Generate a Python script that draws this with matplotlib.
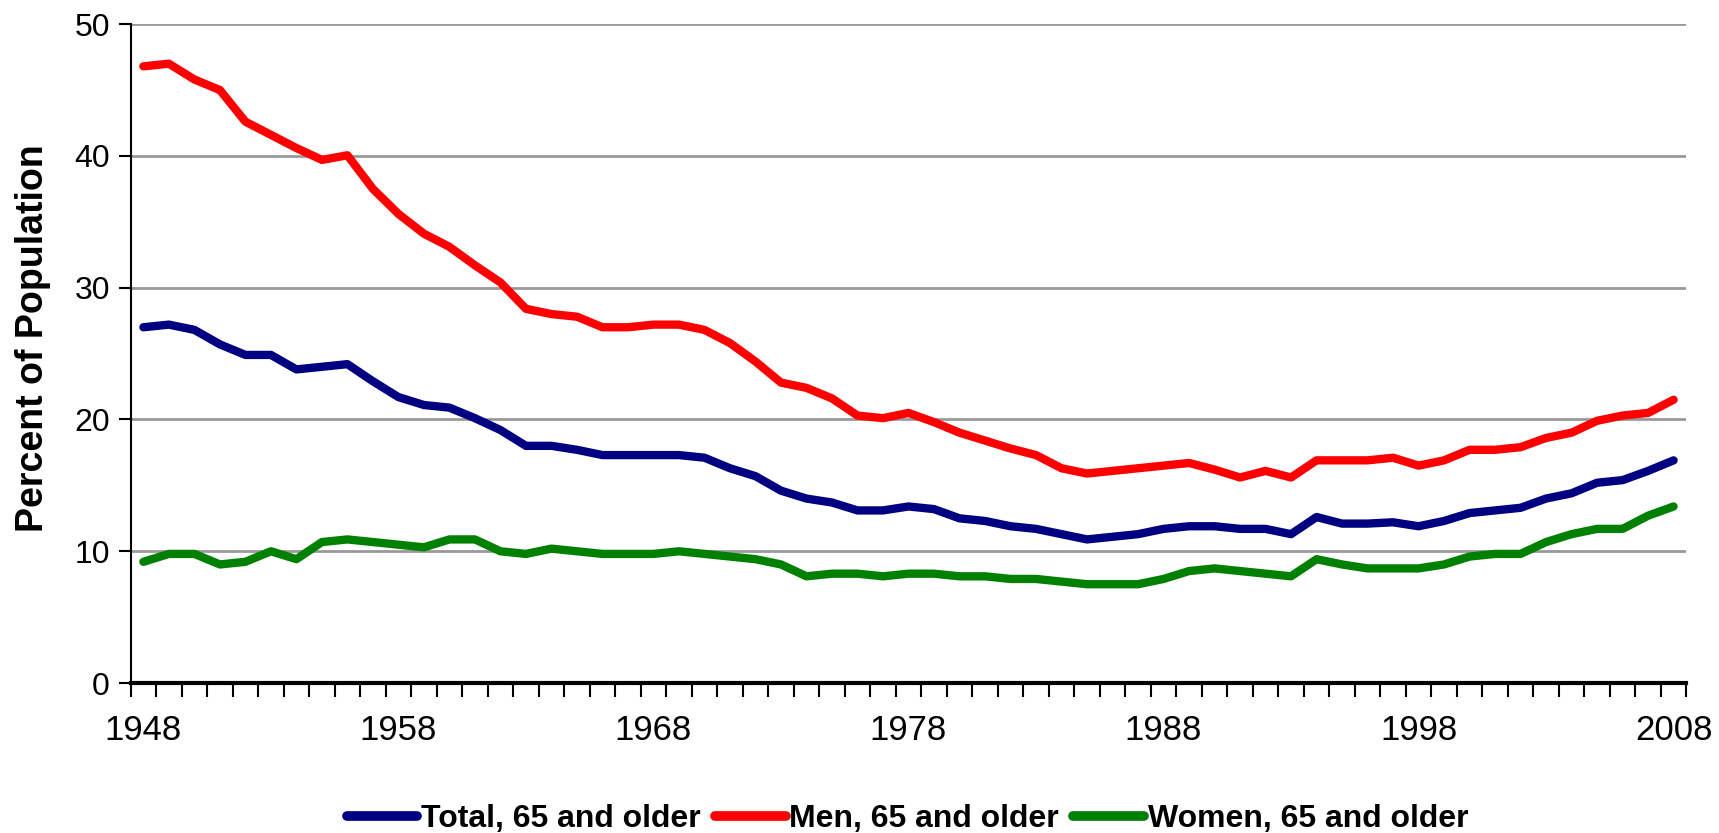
import numpy as np
import matplotlib
matplotlib.use("Agg")
import matplotlib.pyplot as plt

# Percent of population 65+ in labour force, annual
years = list(range(1948, 2009))
total = [27.0, 27.2, 26.8, 25.7, 24.9, 24.9, 23.8, 24.0, 24.2, 22.9,
         21.7, 21.1, 20.9, 20.1, 19.2, 18.0, 18.0, 17.7, 17.3, 17.3,
         17.3, 17.3, 17.1, 16.3, 15.7, 14.6, 14.0, 13.7, 13.1, 13.1,
         13.4, 13.2, 12.5, 12.3, 11.9, 11.7, 11.3, 10.9, 11.1, 11.3,
         11.7, 11.9, 11.9, 11.7, 11.7, 11.3, 12.6, 12.1, 12.1, 12.2,
         11.9, 12.3, 12.9, 13.1, 13.3, 14.0, 14.4, 15.2, 15.4, 16.1,
         16.9]
men = [46.8, 47.0, 45.8, 45.0, 42.6, 41.6, 40.6, 39.7, 40.05, 37.5,
       35.6, 34.1, 33.1, 31.7, 30.4, 28.4, 28.0, 27.8, 27.0, 27.0,
       27.2, 27.2, 26.8, 25.8, 24.4, 22.8, 22.4, 21.6, 20.3, 20.1,
       20.5, 19.8, 19.0, 18.4, 17.8, 17.3, 16.3, 15.9, 16.1, 16.3,
       16.5, 16.7, 16.2, 15.6, 16.1, 15.6, 16.9, 16.9, 16.9, 17.1,
       16.5, 16.9, 17.7, 17.7, 17.9, 18.6, 19.0, 19.9, 20.3, 20.5,
       21.5]
women = [9.2, 9.8, 9.8, 9.0, 9.2, 10.0, 9.4, 10.7, 10.9, 10.7,
         10.5, 10.3, 10.9, 10.9, 10.0, 9.8, 10.2, 10.0, 9.8, 9.8,
         9.8, 10.0, 9.8, 9.6, 9.4, 9.0, 8.1, 8.3, 8.3, 8.1,
         8.3, 8.3, 8.1, 8.1, 7.9, 7.9, 7.7, 7.5, 7.5, 7.5,
         7.9, 8.5, 8.7, 8.5, 8.3, 8.1, 9.4, 9.0, 8.7, 8.7,
         8.7, 9.0, 9.6, 9.8, 9.8, 10.7, 11.3, 11.7, 11.7, 12.7,
         13.4]
labels = ["Total, 65 and older", "Men, 65 and older", "Women, 65 and older"]
colors = ["#000080", "#FF0000", "#008000"]

plt.rcParams["font.family"] = ["Liberation Sans", "DejaVu Sans"]

fig = plt.figure(figsize=(17.19, 8.33), dpi=100)
ax = fig.add_axes([0.076, 0.180, 0.905, 0.791])

x = np.arange(len(years))
for series, label, color in zip([total, men, women], labels, colors):
    ax.plot(x, series, color=color, lw=6, label=label, solid_capstyle="round", zorder=3)

ax.set_xlim(-0.5, len(years) - 0.5)
ax.set_ylim(0, 50)

# category axis: tick marks at boundaries, labels every 10 years
ax.set_xticks(np.arange(-0.5, len(years), 1.0), minor=True)
ax.set_xticks(x[::10])
ax.set_xticklabels([str(y) for y in years[::10]], fontsize=25)
ax.tick_params(axis="x", which="major", length=0, pad=22)
ax.tick_params(axis="x", which="minor", length=10, width=1.5, direction="out")

ax.set_yticks(range(0, 51, 10))
ax.tick_params(axis="y", length=9, width=1.5, labelsize=23, pad=6)
ax.yaxis.grid(True, color="#999999", lw=2)
ax.set_axisbelow(True)

for side in ["top", "right"]:
    ax.spines[side].set_visible(False)
ax.spines["left"].set_linewidth(1.5)
ax.spines["bottom"].set_linewidth(3)

ax.set_ylabel("Percent of Population", fontsize=27, fontweight="bold")
ax.yaxis.set_label_coords(-0.051, 0.523)

leg = fig.legend(loc="lower center", bbox_to_anchor=(0.528, -0.036), ncol=3,
                 frameon=False, handlelength=2.2, handletextpad=0.12,
                 columnspacing=0.45, prop={"size": 23, "weight": "bold"})
for line in leg.get_lines():
    line.set_linewidth(7)

fig.savefig("out.png", dpi=100)
